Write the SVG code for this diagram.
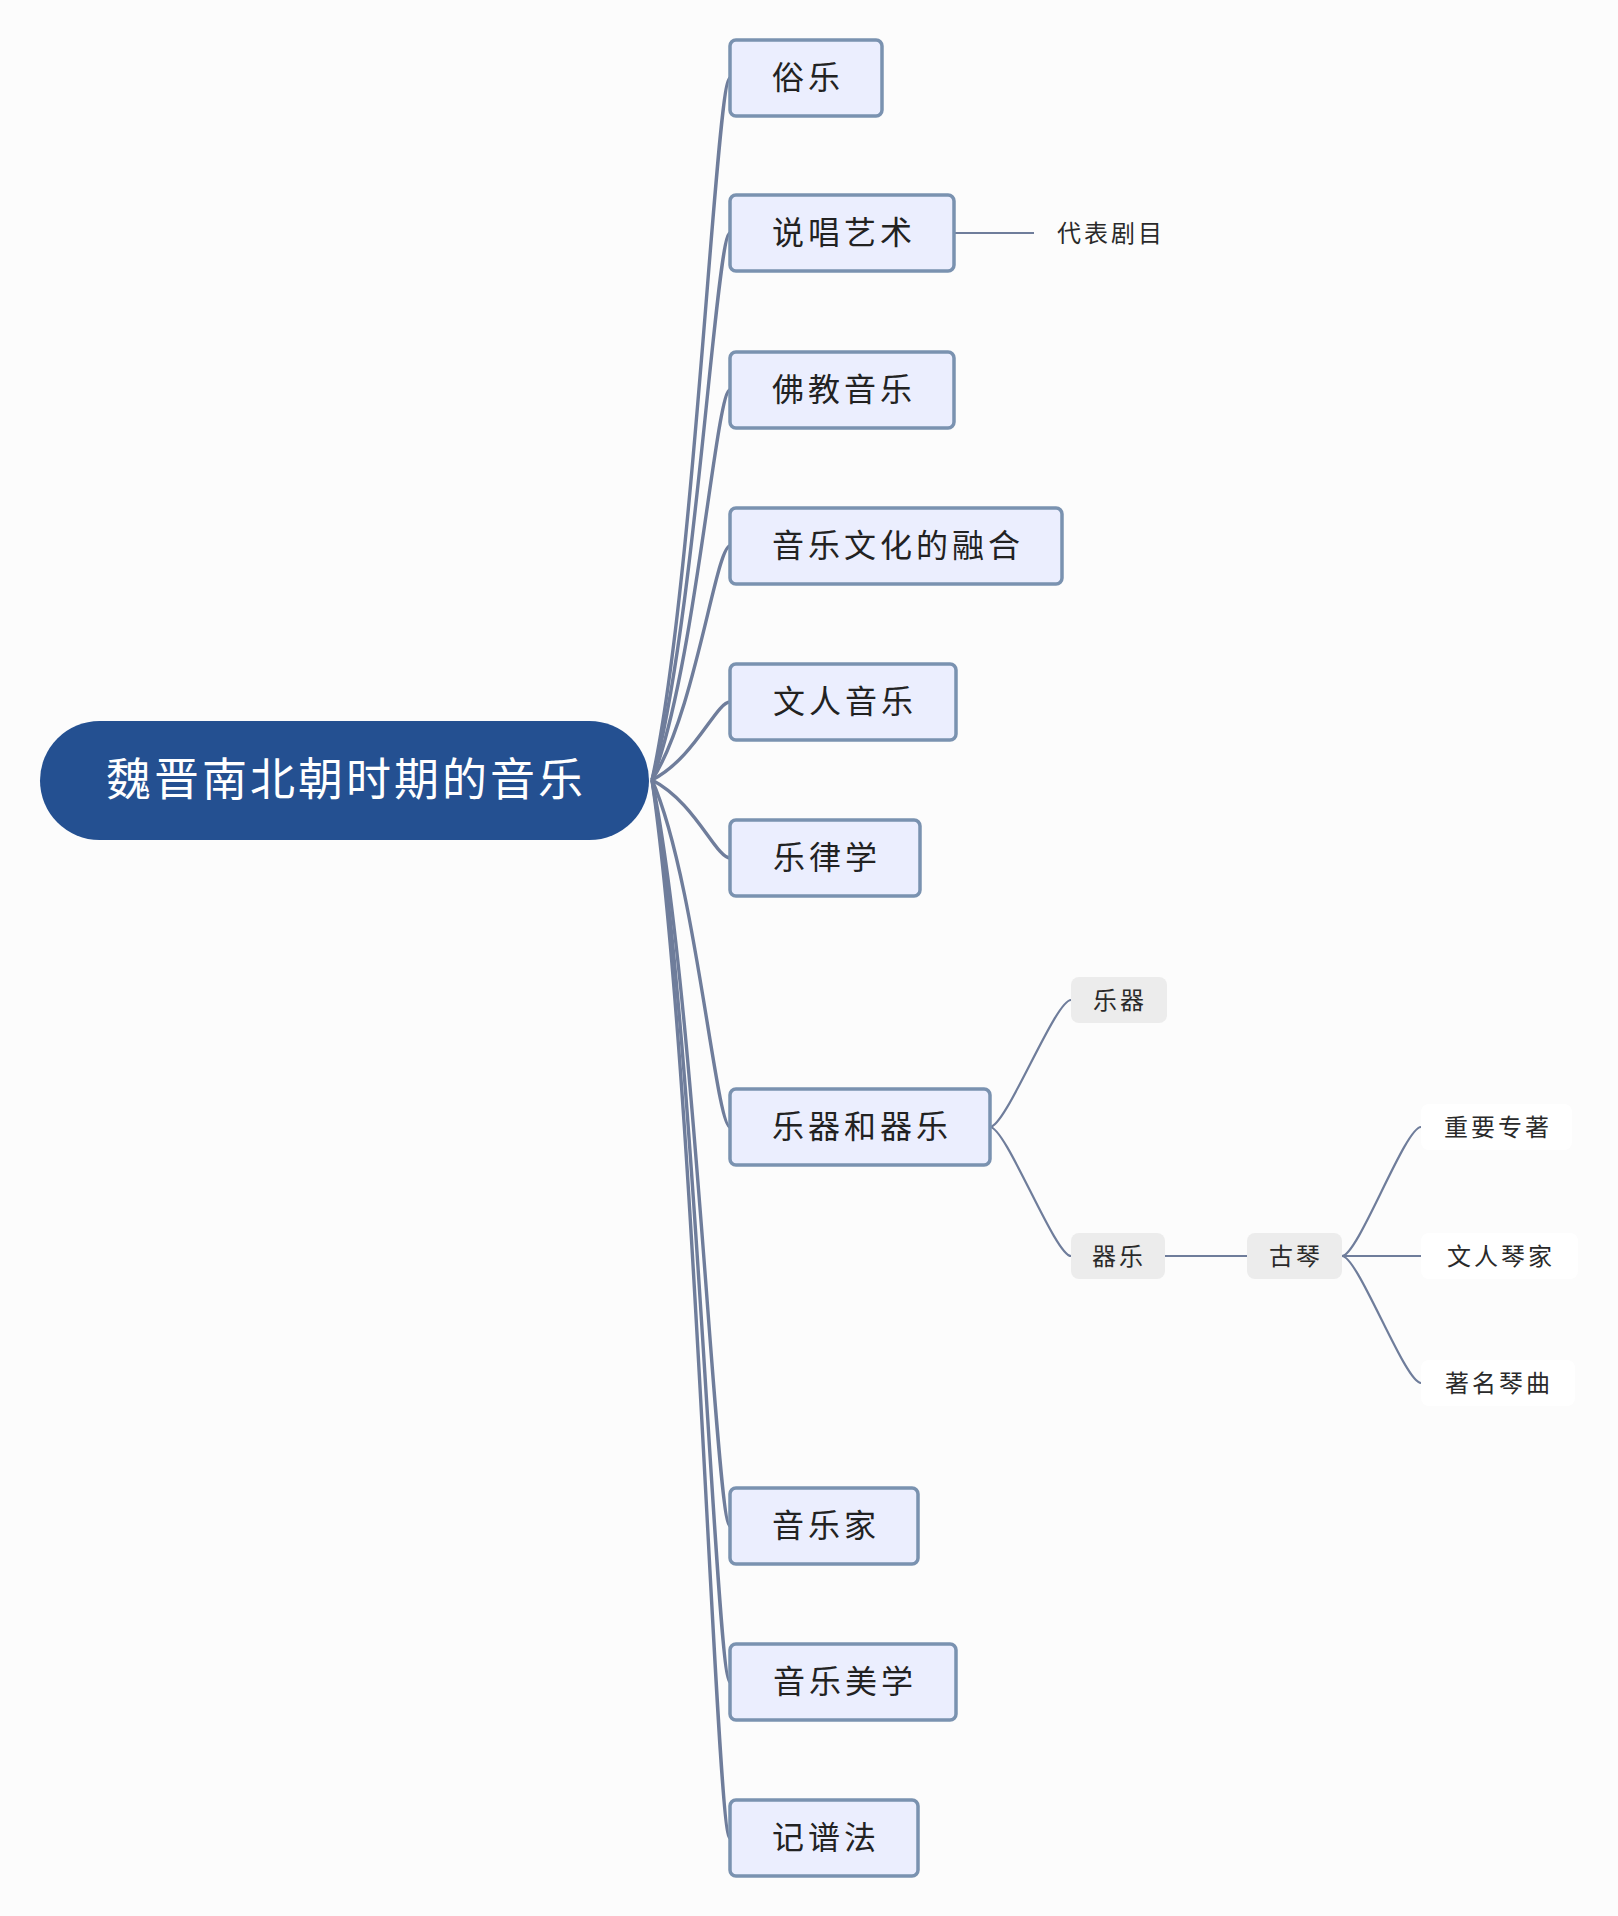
<svg xmlns="http://www.w3.org/2000/svg" width="1618" height="1916" viewBox="0 0 1618 1916">
<style>
.bg{fill:#fcfcfc}
.root{fill:#245091}
.rt{font-family:"Noto Sans CJK SC","Noto Sans",sans-serif;font-size:45px;fill:#ffffff;text-anchor:middle;letter-spacing:3px}
.b1{fill:#ebeefe;stroke:#7a92b0;stroke-width:3.5}
.t1{font-family:"Noto Sans CJK SC","Noto Sans",sans-serif;font-size:32px;fill:#222222;text-anchor:middle;letter-spacing:4px}
.b2{fill:#ececec}
.b3{fill:#ffffff}
.t2{font-family:"Noto Sans CJK SC","Noto Sans",sans-serif;font-size:24px;fill:#2a2a2a;text-anchor:middle;letter-spacing:3px}
.c1{fill:none;stroke:#6f7d9b;stroke-width:3.4}
.c2{fill:none;stroke:#6f7d9b;stroke-width:2.2}
</style>
<rect class="bg" x="0" y="0" width="1618" height="1916"/>
<g id="connectors">
<path class="c1" d="M652,780 C695,583 716,78 730,78"/>
<path class="c1" d="M652,780 C695,627 716,233 730,233"/>
<path class="c1" d="M652,780 C695,671 716,390 730,390"/>
<path class="c1" d="M652,780 C695,714 716,546 730,546"/>
<path class="c1" d="M652,780 C695,758 716,702 730,702"/>
<path class="c1" d="M652,780 C695,802 716,858 730,858"/>
<path class="c1" d="M652,780 C695,877 716,1127 730,1127"/>
<path class="c1" d="M652,780 C695,989 716,1526 730,1526"/>
<path class="c1" d="M652,780 C695,1033 716,1682 730,1682"/>
<path class="c1" d="M652,780 C695,1076 716,1838 730,1838"/>
<path class="c2" d="M954,233 L1034,233"/>
<path class="c2" d="M990,1127 C1006,1127 1055,1000 1071,1000"/>
<path class="c2" d="M990,1127 C1006,1127 1055,1256 1071,1256"/>
<path class="c2" d="M1165,1256 L1247,1256"/>
<path class="c2" d="M1342,1256 C1358,1256 1405,1127 1421,1127"/>
<path class="c2" d="M1342,1256 L1421,1256"/>
<path class="c2" d="M1342,1256 C1358,1256 1405,1383 1421,1383"/>
</g>
<g id="root">
<rect class="root" x="40" y="721" width="609" height="119" rx="59.5"/>
<text class="rt" x="346" y="796">魏晋南北朝时期的音乐</text>
</g>
<g id="n1"><rect class="b1" x="730" y="40" width="152" height="76" rx="6"/><text class="t1" x="808" y="89">俗乐</text></g>
<g id="n2"><rect class="b1" x="730" y="195" width="224" height="76" rx="6"/><text class="t1" x="844" y="244">说唱艺术</text></g>
<g id="n3"><rect class="b1" x="730" y="352" width="224" height="76" rx="6"/><text class="t1" x="844" y="401">佛教音乐</text></g>
<g id="n4"><rect class="b1" x="730" y="508" width="332" height="76" rx="6"/><text class="t1" x="898" y="557">音乐文化的融合</text></g>
<g id="n5"><rect class="b1" x="730" y="664" width="226" height="76" rx="6"/><text class="t1" x="845" y="713">文人音乐</text></g>
<g id="n6"><rect class="b1" x="730" y="820" width="190" height="76" rx="6"/><text class="t1" x="827" y="869">乐律学</text></g>
<g id="n7"><rect class="b1" x="730" y="1089" width="260" height="76" rx="6"/><text class="t1" x="862" y="1138">乐器和器乐</text></g>
<g id="n8"><rect class="b1" x="730" y="1488" width="188" height="76" rx="6"/><text class="t1" x="826" y="1537">音乐家</text></g>
<g id="n9"><rect class="b1" x="730" y="1644" width="226" height="76" rx="6"/><text class="t1" x="845" y="1693">音乐美学</text></g>
<g id="n10"><rect class="b1" x="730" y="1800" width="188" height="76" rx="6"/><text class="t1" x="826" y="1849">记谱法</text></g>
<g id="n2a"><text class="t2" x="1111" y="242">代表剧目</text></g>
<g id="n7a"><rect class="b2" x="1071" y="977" width="96" height="46" rx="8"/><text class="t2" x="1120" y="1009">乐器</text></g>
<g id="n7b"><rect class="b2" x="1071" y="1233" width="94" height="46" rx="8"/><text class="t2" x="1119" y="1265">器乐</text></g>
<g id="n7b1"><rect class="b2" x="1247" y="1233" width="95" height="46" rx="8"/><text class="t2" x="1296" y="1265">古琴</text></g>
<g id="n7b1a"><rect class="b3" x="1421" y="1104" width="151" height="46" rx="8"/><text class="t2" x="1498" y="1136">重要专著</text></g>
<g id="n7b1b"><rect class="b3" x="1421" y="1233" width="157" height="46" rx="8"/><text class="t2" x="1501" y="1265">文人琴家</text></g>
<g id="n7b1c"><rect class="b3" x="1421" y="1360" width="154" height="46" rx="8"/><text class="t2" x="1499" y="1392">著名琴曲</text></g>
</svg>
